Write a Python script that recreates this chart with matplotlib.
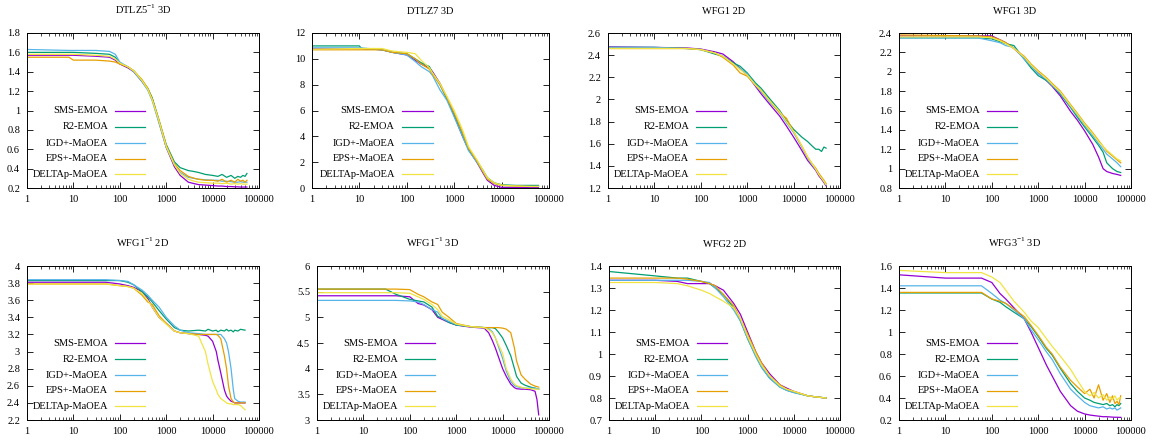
import numpy as np
import matplotlib
matplotlib.use('Agg')
import matplotlib.pyplot as plt
from matplotlib.ticker import FuncFormatter, LogLocator, NullFormatter

plt.rcParams['font.family'] = ['Liberation Serif', 'DejaVu Serif']
plt.rcParams['mathtext.fontset'] = 'custom'
plt.rcParams['mathtext.rm'] = 'Liberation Serif'
plt.rcParams['font.size'] = 7.5

algos = ['SMS-EMOA', 'R2-EMOA', 'IGD+-MaOEA', 'EPS+-MaOEA', 'DELTAp-MaOEA']
colors = ['#9400d3', '#009e73', '#56b4e9', '#e69f00', '#f0e442']

# --- DTLZ5^-1 3D
dtlz5_x = [1, 8, 10, 30, 60, 80, 100, 150, 200, 300, 400, 500, 700, 1000, 1500, 2000, 3000, 4000,
           5000, 7000, 10000, 13000, 16000, 20000, 25000, 30000, 35000, 40000, 45000, 50000, 55000]
dtlz5_y = [
    [1.57, 1.57, 1.57, 1.56, 1.55, 1.52, 1.48, 1.44, 1.40, 1.30, 1.22, 1.12, 0.88, 0.62, 0.42, 0.33,
     0.26, 0.245, 0.235, 0.23, 0.225, 0.22, 0.22, 0.215, 0.215, 0.212, 0.212, 0.21, 0.21, 0.21, 0.21],
    [1.60, 1.60, 1.60, 1.59, 1.58, 1.55, 1.49, 1.45, 1.41, 1.31, 1.23, 1.13, 0.90, 0.65, 0.47, 0.41,
     0.38, 0.37, 0.36, 0.34, 0.33, 0.32, 0.34, 0.31, 0.33, 0.30, 0.32, 0.31, 0.33, 0.32, 0.35],
    [1.63, 1.62, 1.62, 1.62, 1.61, 1.58, 1.50, 1.45, 1.40, 1.30, 1.21, 1.10, 0.87, 0.62, 0.44, 0.36,
     0.31, 0.30, 0.29, 0.285, 0.28, 0.28, 0.27, 0.27, 0.265, 0.26, 0.26, 0.265, 0.26, 0.26, 0.26],
    [1.55, 1.55, 1.52, 1.52, 1.51, 1.50, 1.48, 1.45, 1.41, 1.32, 1.23, 1.12, 0.90, 0.64, 0.45, 0.38,
     0.32, 0.30, 0.29, 0.28, 0.28, 0.27, 0.29, 0.26, 0.28, 0.26, 0.29, 0.27, 0.28, 0.26, 0.28],
    [1.58, 1.58, 1.58, 1.57, 1.56, 1.53, 1.49, 1.45, 1.41, 1.31, 1.22, 1.11, 0.89, 0.63, 0.44, 0.35,
     0.29, 0.27, 0.26, 0.255, 0.25, 0.25, 0.245, 0.25, 0.24, 0.245, 0.24, 0.245, 0.24, 0.24, 0.24],
]

# --- DTLZ7 3D
dtlz7_x = [1, 10, 11, 30, 50, 100, 150, 200, 300, 350, 500, 700, 1000, 1500, 2000, 3000, 4000,
           5000, 7000, 10000, 20000, 40000, 60000]
dtlz7_y = [
    [10.8, 10.8, 10.8, 10.7, 10.5, 10.3, 9.9, 9.6, 9.3, 9.0, 8.1, 7.0, 5.6, 4.0, 3.0, 2.0, 1.2, 0.6,
     0.2, 0.05, 0.04, 0.03, 0.03],
    [11.0, 11.0, 10.8, 10.7, 10.5, 10.4, 10.0, 9.7, 9.4, 8.9, 8.0, 6.9, 5.7, 4.1, 3.0, 2.1, 1.4, 0.8,
     0.4, 0.25, 0.2, 0.2, 0.2],
    [10.85, 10.85, 10.85, 10.7, 10.5, 10.3, 9.8, 9.4, 9.0, 8.7, 7.6, 6.8, 5.5, 4.0, 2.9, 2.0, 1.3, 0.7,
     0.35, 0.2, 0.15, 0.12, 0.12],
    [10.7, 10.7, 10.7, 10.7, 10.5, 10.4, 10.0, 9.6, 9.2, 8.8, 8.0, 7.0, 5.8, 4.3, 3.1, 2.1, 1.3, 0.7,
     0.35, 0.2, 0.15, 0.12, 0.12],
    [10.75, 10.8, 10.8, 10.8, 10.6, 10.5, 10.4, 9.9, 9.3, 8.9, 8.1, 7.1, 6.0, 4.5, 3.2, 2.2, 1.4, 0.8,
     0.4, 0.22, 0.15, 0.12, 0.12],
]

# --- WFG1 2D
wfg1_2d_x = [1, 10, 50, 100, 200, 300, 500, 700, 1000, 1500, 2000, 3000, 5000, 7000, 10000, 15000,
             20000, 25000, 30000, 35000, 40000, 45000, 50000]
wfg1_2d_y = [
    [2.475, 2.47, 2.465, 2.455, 2.43, 2.41, 2.34, 2.28, 2.22, 2.12, 2.05, 1.96, 1.85, 1.76, 1.66, 1.54,
     1.45, 1.40, 1.36, 1.31, 1.28, 1.25, 1.22],
    [2.47, 2.47, 2.46, 2.45, 2.41, 2.39, 2.33, 2.30, 2.24, 2.15, 2.10, 2.01, 1.90, 1.81, 1.73, 1.66,
     1.62, 1.58, 1.55, 1.55, 1.53, 1.57, 1.56],
    [2.47, 2.47, 2.46, 2.45, 2.42, 2.39, 2.32, 2.28, 2.23, 2.13, 2.07, 1.98, 1.88, 1.79, 1.70, 1.57,
     1.47, 1.41, 1.37, 1.33, 1.29, 1.26, 1.23],
    [2.46, 2.46, 2.46, 2.45, 2.42, 2.38, 2.31, 2.24, 2.21, 2.13, 2.08, 1.99, 1.88, 1.83, 1.71, 1.58,
     1.48, 1.42, 1.38, 1.33, 1.30, 1.27, 1.24],
    [2.46, 2.46, 2.46, 2.45, 2.42, 2.39, 2.32, 2.27, 2.22, 2.13, 2.08, 1.99, 1.89, 1.80, 1.71, 1.58,
     1.48, 1.42, 1.37, 1.32, 1.29, 1.26, 1.23],
]

# --- WFG1 3D
wfg1_3d_x = [1, 50, 100, 150, 200, 300, 500, 700, 1000, 1500, 2000, 3000, 5000, 7000, 10000, 15000,
             20000, 25000, 30000, 40000, 50000, 60000]
wfg1_3d_y = [
    [2.37, 2.37, 2.37, 2.33, 2.30, 2.24, 2.14, 2.06, 1.99, 1.91, 1.85, 1.75, 1.59, 1.50, 1.39, 1.25,
     1.12, 1.00, 0.97, 0.95, 0.94, 0.93],
    [2.35, 2.35, 2.34, 2.31, 2.29, 2.27, 2.13, 2.04, 1.96, 1.91, 1.86, 1.77, 1.63, 1.53, 1.43, 1.32,
     1.24, 1.17, 1.06, 1.00, 0.97, 0.96],
    [2.35, 2.35, 2.32, 2.30, 2.27, 2.25, 2.13, 2.06, 1.98, 1.92, 1.86, 1.78, 1.64, 1.55, 1.45, 1.34,
     1.26, 1.20, 1.15, 1.10, 1.06, 1.02],
    [2.38, 2.37, 2.36, 2.33, 2.30, 2.24, 2.16, 2.08, 2.01, 1.94, 1.88, 1.80, 1.66, 1.57, 1.47, 1.37,
     1.29, 1.23, 1.18, 1.13, 1.09, 1.06],
    [2.36, 2.36, 2.35, 2.32, 2.29, 2.24, 2.15, 2.07, 2.00, 1.93, 1.87, 1.79, 1.65, 1.56, 1.46, 1.36,
     1.28, 1.23, 1.19, 1.14, 1.10, 1.08],
]

# --- WFG1^-1 2D
wfg1i_2d_x = [1, 50, 100, 150, 200, 300, 400, 500, 700, 1000, 1500, 2000, 3000, 5000, 7000, 8000,
              10000, 12000, 13000, 15000, 18000, 20000, 22000, 25000, 28000, 30000, 35000, 40000, 50000]
wfg1i_2d_y = [
    [3.81, 3.81, 3.79, 3.77, 3.75, 3.70, 3.62, 3.52, 3.40, 3.33, 3.24, 3.22, 3.21, 3.20, 3.19, 3.18,
     3.12, 3.00, 2.90, 2.75, 2.55, 2.48, 2.45, 2.42, 2.41, 2.40, 2.40, 2.40, 2.40],
    [3.83, 3.83, 3.83, 3.81, 3.78, 3.70, 3.64, 3.58, 3.48, 3.38, 3.28, 3.25, 3.24, 3.25, 3.24, 3.26,
     3.24, 3.25, 3.23, 3.25, 3.24, 3.26, 3.24, 3.25, 3.23, 3.25, 3.24, 3.26, 3.25],
    [3.84, 3.84, 3.83, 3.82, 3.78, 3.72, 3.66, 3.60, 3.52, 3.40, 3.30, 3.25, 3.22, 3.21, 3.20, 3.20,
     3.20, 3.20, 3.20, 3.20, 3.15, 3.10, 3.00, 2.80, 2.55, 2.45, 2.42, 2.41, 2.41],
    [3.79, 3.79, 3.77, 3.76, 3.74, 3.66, 3.58, 3.55, 3.42, 3.33, 3.24, 3.22, 3.21, 3.20, 3.20, 3.20,
     3.20, 3.20, 3.19, 3.15, 2.95, 2.80, 2.60, 2.45, 2.41, 2.40, 2.40, 2.40, 2.40],
    [3.79, 3.79, 3.77, 3.76, 3.74, 3.68, 3.60, 3.52, 3.40, 3.32, 3.24, 3.22, 3.21, 3.18, 3.00, 2.85,
     2.65, 2.55, 2.50, 2.45, 2.42, 2.40, 2.39, 2.39, 2.38, 2.38, 2.38, 2.37, 2.32],
]

# --- WFG1^-1 3D
wfg1i_3d_x = [1, 30, 50, 100, 150, 200, 300, 400, 500, 700, 1000, 2000, 4000, 5000, 6000, 7000, 8000,
              10000, 12000, 15000, 18000, 20000, 25000, 30000, 40000, 50000, 55000, 60000]
wfg1i_3d_y = [
    [5.42, 5.42, 5.42, 5.40, 5.27, 5.24, 5.15, 5.00, 4.96, 4.90, 4.85, 4.81, 4.79, 4.70, 4.55, 4.40,
     4.25, 4.00, 3.85, 3.70, 3.63, 3.61, 3.60, 3.60, 3.59, 3.56, 3.40, 3.10],
    [5.55, 5.55, 5.45, 5.35, 5.32, 5.30, 5.20, 5.02, 4.98, 4.90, 4.85, 4.82, 4.80, 4.80, 4.80, 4.78,
     4.72, 4.60, 4.45, 4.25, 4.00, 3.85, 3.72, 3.68, 3.64, 3.62, 3.61, 3.60],
    [5.33, 5.33, 5.33, 5.32, 5.30, 5.25, 5.15, 5.10, 4.98, 4.92, 4.86, 4.82, 4.80, 4.78, 4.72, 4.60,
     4.45, 4.20, 3.95, 3.75, 3.67, 3.65, 3.63, 3.62, 3.62, 3.62, 3.61, 3.61],
    [5.55, 5.55, 5.55, 5.54, 5.45, 5.40, 5.30, 5.25, 5.10, 5.00, 4.88, 4.82, 4.80, 4.80, 4.80, 4.80,
     4.80, 4.79, 4.77, 4.70, 4.40, 4.15, 3.88, 3.80, 3.70, 3.66, 3.65, 3.64],
    [5.48, 5.48, 5.48, 5.47, 5.40, 5.35, 5.25, 5.15, 5.02, 4.95, 4.87, 4.82, 4.80, 4.76, 4.70, 4.60,
     4.48, 4.30, 4.00, 3.80, 3.70, 3.67, 3.64, 3.62, 3.61, 3.60, 3.60, 3.60],
]

# --- WFG2 2D
wfg2_x = [1, 10, 30, 50, 100, 150, 200, 300, 500, 700, 1000, 1500, 2000, 3000, 5000, 7000, 10000,
          20000, 30000, 50000]
wfg2_y = [
    [1.335, 1.335, 1.33, 1.32, 1.32, 1.32, 1.31, 1.29, 1.23, 1.18, 1.10, 1.01, 0.96, 0.91, 0.86, 0.845,
     0.83, 0.81, 0.805, 0.80],
    [1.375, 1.355, 1.345, 1.345, 1.33, 1.32, 1.30, 1.27, 1.21, 1.15, 1.07, 0.99, 0.94, 0.89, 0.85, 0.835,
     0.825, 0.81, 0.805, 0.80],
    [1.335, 1.335, 1.335, 1.335, 1.33, 1.325, 1.30, 1.26, 1.20, 1.15, 1.07, 0.99, 0.94, 0.89, 0.85, 0.835,
     0.825, 0.81, 0.805, 0.80],
    [1.345, 1.345, 1.345, 1.34, 1.33, 1.32, 1.31, 1.27, 1.22, 1.16, 1.09, 1.01, 0.96, 0.90, 0.86, 0.84,
     0.83, 0.81, 0.805, 0.80],
    [1.325, 1.325, 1.32, 1.31, 1.29, 1.275, 1.26, 1.24, 1.21, 1.16, 1.08, 1.00, 0.95, 0.90, 0.855, 0.84,
     0.83, 0.81, 0.805, 0.80],
]

# --- WFG3^-1 3D
wfg3i_x = [1, 10, 60, 100, 150, 200, 300, 500, 700, 1000, 1500, 2000, 3000, 5000, 7000, 10000, 13000,
           16000, 20000, 25000, 30000, 35000, 40000, 45000, 50000, 55000, 60000]
wfg3i_y = [
    [1.52, 1.49, 1.49, 1.45, 1.35, 1.30, 1.22, 1.12, 1.00, 0.86, 0.70, 0.60, 0.46, 0.33, 0.28, 0.255,
     0.245, 0.24, 0.235, 0.23, 0.23, 0.228, 0.226, 0.225, 0.225, 0.224, 0.224],
    [1.355, 1.355, 1.355, 1.30, 1.27, 1.23, 1.18, 1.12, 1.05, 0.96, 0.85, 0.79, 0.67, 0.53, 0.46, 0.40,
     0.38, 0.36, 0.35, 0.34, 0.35, 0.33, 0.34, 0.32, 0.34, 0.33, 0.35],
    [1.42, 1.42, 1.42, 1.35, 1.29, 1.26, 1.20, 1.12, 1.02, 0.93, 0.82, 0.75, 0.62, 0.48, 0.42, 0.36,
     0.33, 0.32, 0.31, 0.32, 0.30, 0.31, 0.30, 0.31, 0.29, 0.30, 0.31],
    [1.36, 1.36, 1.36, 1.30, 1.28, 1.26, 1.21, 1.14, 1.06, 0.97, 0.86, 0.80, 0.68, 0.56, 0.50, 0.44,
     0.48, 0.40, 0.52, 0.38, 0.44, 0.36, 0.42, 0.35, 0.37, 0.34, 0.42],
    [1.56, 1.54, 1.54, 1.50, 1.45, 1.38, 1.28, 1.18, 1.10, 1.04, 0.94, 0.87, 0.78, 0.66, 0.56, 0.46,
     0.42, 0.45, 0.40, 0.43, 0.38, 0.41, 0.39, 0.42, 0.38, 0.40, 0.40],
]

titles = [r'DTLZ5$^{-1}$ 3D', 'DTLZ7 3D', 'WFG1 2D', 'WFG1 3D',
          r'WFG1$^{-1}$ 2D', r'WFG1$^{-1}$ 3D', 'WFG2 2D', r'WFG3$^{-1}$ 3D']
xs = [dtlz5_x, dtlz7_x, wfg1_2d_x, wfg1_3d_x, wfg1i_2d_x, wfg1i_3d_x, wfg2_x, wfg3i_x]
ys = [dtlz5_y, dtlz7_y, wfg1_2d_y, wfg1_3d_y, wfg1i_2d_y, wfg1i_3d_y, wfg2_y, wfg3i_y]
ylims = [(0.2, 1.8, 0.2), (0, 12, 2), (1.2, 2.6, 0.2), (0.8, 2.4, 0.2),
         (2.2, 4.0, 0.2), (3.0, 6.0, 0.5), (0.7, 1.4, 0.1), (0.2, 1.6, 0.2)]

# axes boxes in pixels (left, right) per column, (top, bottom) per row
W, H = 1156, 446
cols = [[(27, 259), (312, 549), (608, 840), (899, 1131)],
        [(27, 259), (317, 549), (609, 840), (899, 1131)]]
rows = [(33, 188), (266, 420)]

fig = plt.figure(figsize=(W / 100, H / 100), dpi=100)
fmt = FuncFormatter(lambda v, p: '%g' % round(v, 6))

for k in range(8):
    r, c = divmod(k, 4)
    l, rr = cols[r][c]
    t, b = rows[r]
    ax = fig.add_axes([l / W, 1 - b / H, (rr - l) / W, (b - t) / H])
    x = np.array(xs[k])
    for i, yv in enumerate(ys[k]):
        ax.plot(x, yv, color=colors[i], lw=0.9)
    ax.set_xscale('log')
    ax.set_xlim(1, 100000)
    lo, hi, st = ylims[k]
    ax.set_ylim(lo, hi)
    ax.set_yticks(np.arange(lo, hi + st / 2, st))
    ax.yaxis.set_major_formatter(fmt)
    ax.set_xticks([1, 10, 100, 1000, 10000, 100000])
    ax.xaxis.set_major_formatter(FuncFormatter(lambda v, p: '%d' % v))
    ax.xaxis.set_minor_locator(LogLocator(base=10, subs=np.arange(2, 10), numticks=20))
    ax.xaxis.set_minor_formatter(NullFormatter())
    ax.tick_params(which='both', direction='in', top=True, right=True, labelsize=7.5, pad=5)
    ax.tick_params(which='major', length=4, width=0.6)
    ax.tick_params(which='minor', length=2, width=0.5)
    for s in ax.spines.values():
        s.set_linewidth(0.7)
    ax.set_title(titles[k], fontsize=7.5, pad=14)

    # gnuplot style key: right-aligned labels, sample line to the right
    for i, name in enumerate(algos):
        yy = [0.50, 0.395, 0.29, 0.19, 0.09][i]
        ax.text(0.35, yy, name, transform=ax.transAxes, ha='right', va='center', fontsize=7.5)
        ax.plot([0.38, 0.51], [yy, yy], transform=ax.transAxes, color=colors[i], lw=0.9)

plt.savefig('out.png', dpi=100)
